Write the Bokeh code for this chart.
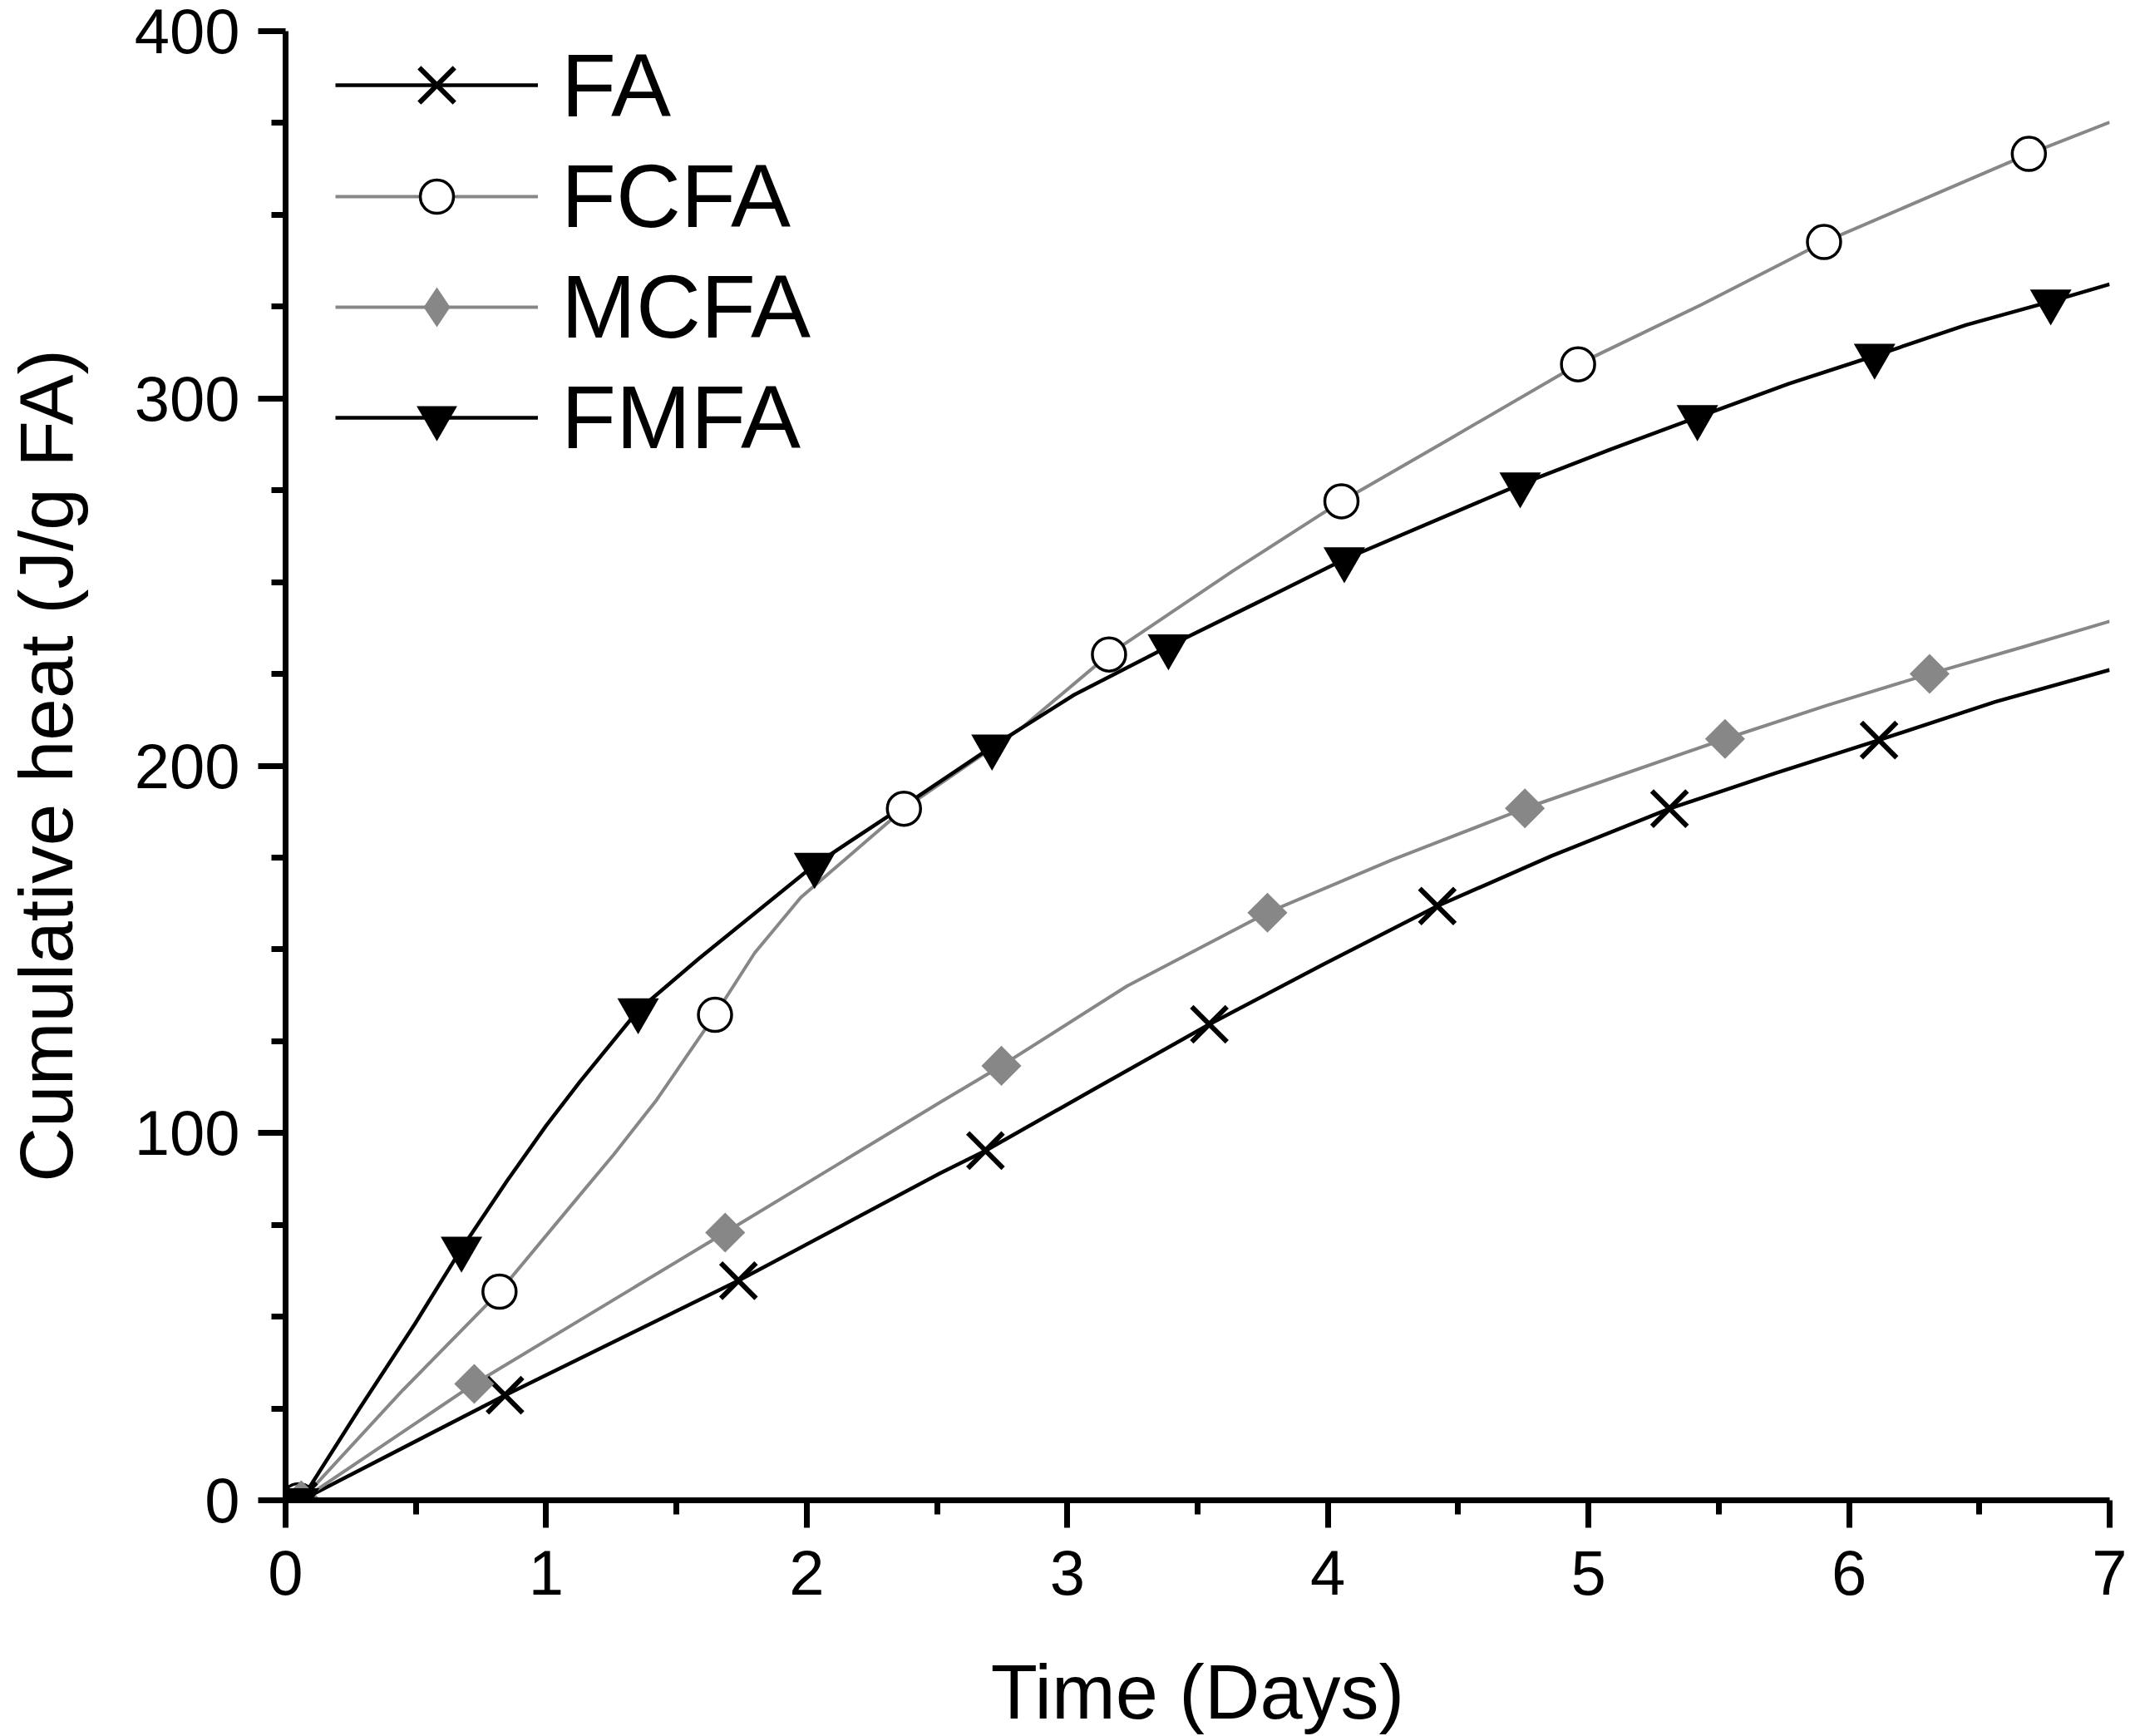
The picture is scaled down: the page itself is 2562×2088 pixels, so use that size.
import math
from bokeh.plotting import figure
from bokeh.models import FixedTicker, Legend, LegendItem, Range1d
from bokeh.embed import file_html
from bokeh.resources import INLINE

# ---------------- data ----------------
x_ticks = [0, 1, 2, 3, 4, 5, 6, 7]
x_minor = [0.5, 1.5, 2.5, 3.5, 4.5, 5.5, 6.5]
y_ticks = [0, 100, 200, 300, 400]
y_minor = [25, 50, 75, 125, 150, 175, 225, 250, 275, 325, 350, 375]

# FA : curve trace and marker points
fa_line_x = [0.06, 0.842, 1.738, 2.511, 2.686, 3.107, 3.545, 3.982, 4.420, 4.857, 5.311, 5.713, 6.115, 6.561, 7.0]
fa_line_y = [0.0, 28.6, 59.8, 89.0, 95.2, 112.1, 129.6, 145.9, 161.8, 175.4, 188.3, 197.9, 207.0, 217.4, 226.1]
fa_mark_x = [0.05, 0.842, 1.738, 2.686, 3.545, 4.420, 5.311, 6.115]
fa_mark_y = [0.0, 28.6, 59.8, 95.2, 129.6, 161.8, 188.3, 207.0]

# FCFA
fcfa_line_x = [0.06, 0.45, 0.821, 1.114, 1.261, 1.424, 1.648, 1.80, 1.977, 2.373, 2.823, 3.160, 3.637, 4.052, 4.470, 4.960, 5.438, 5.904, 6.304, 6.690, 7.0]
fcfa_line_y = [0.0, 30.0, 56.8, 81.8, 94.3, 109.0, 132.2, 149.0, 164.1, 188.3, 210.2, 230.3, 253.1, 272.0, 289.1, 309.3, 325.7, 342.6, 354.8, 366.6, 375.2]
fcfa_mark_x = [0.05, 0.821, 1.648, 2.373, 3.160, 4.052, 4.960, 5.904, 6.690]
fcfa_mark_y = [0.0, 56.8, 132.2, 188.3, 230.3, 272.0, 309.3, 342.6, 366.6]

# MCFA
mcfa_line_x = [0.06, 0.724, 1.687, 2.511, 2.747, 3.229, 3.768, 4.247, 4.756, 5.524, 5.913, 6.309, 6.661, 7.0]
mcfa_line_y = [0.0, 31.7, 72.9, 108.3, 118.3, 140.0, 160.0, 174.4, 188.4, 207.3, 216.4, 225.0, 232.2, 239.3]
mcfa_mark_x = [0.06, 0.724, 1.687, 2.747, 3.768, 4.756, 5.524, 6.309]
mcfa_mark_y = [0.0, 31.7, 72.9, 118.3, 160.0, 188.4, 207.3, 225.0]

# FMFA
fmfa_line_x = [0.06, 0.284, 0.496, 0.675, 0.85, 1.0, 1.13, 1.353, 1.586, 2.03, 2.371, 2.711, 3.026, 3.388, 3.717, 4.063, 4.738, 5.088, 5.418, 5.768, 6.098, 6.449, 6.774, 7.0]
fmfa_line_y = [0.0, 25.0, 48.0, 68.5, 87.0, 102.0, 114.0, 133.4, 147.5, 173.0, 189.0, 205.2, 219.3, 232.5, 244.0, 256.2, 276.6, 286.2, 294.9, 304.0, 311.6, 320.0, 326.4, 331.1]
fmfa_mark_x = [0.05, 0.675, 1.353, 2.03, 2.711, 3.388, 4.063, 4.738, 5.418, 6.098, 6.774]
fmfa_mark_y = [0.0, 68.5, 133.4, 173.0, 205.2, 232.5, 256.2, 276.6, 294.9, 311.6, 326.4]

labels = ["FA", "FCFA", "MCFA", "FMFA"]
x_title = "Time (Days)"
y_title = "Cumulative heat (J/g FA)"

# ---------------- styling ----------------
FONT = "Liberation Sans"
BLACK = "#000000"
GREY = "#878787"

p = figure(
    frame_width=2194, frame_height=1767,
    min_border_left=343, min_border_right=25, min_border_top=37, min_border_bottom=284,
    x_range=Range1d(0, 7), y_range=Range1d(0, 400),
    output_backend="svg", toolbar_location=None,
)
p.outline_line_color = None
p.xgrid.visible = False
p.ygrid.visible = False
p.background_fill_color = "white"
p.border_fill_color = "white"

p.xaxis.ticker = FixedTicker(ticks=x_ticks, minor_ticks=x_minor)
p.yaxis.ticker = FixedTicker(ticks=y_ticks, minor_ticks=y_minor)

for ax in (p.xaxis, p.yaxis):
    ax.axis_line_width = 7
    ax.axis_line_color = BLACK
    ax.major_tick_line_width = 7
    ax.minor_tick_line_width = 7
    ax.major_tick_line_color = BLACK
    ax.minor_tick_line_color = BLACK
    ax.major_tick_out = 33
    ax.major_tick_in = 0
    ax.minor_tick_out = 17
    ax.minor_tick_in = 0
    ax.major_label_text_font = FONT
    ax.major_label_text_font_size = "76px"
    ax.major_label_text_color = BLACK
    ax.axis_label_text_font = FONT
    ax.axis_label_text_font_style = "normal"
    ax.axis_label_text_color = BLACK

p.xaxis.axis_label_text_font_size = "92px"
p.yaxis.axis_label_text_font_size = "91px"
p.xaxis.major_label_standoff = 27
p.yaxis.major_label_standoff = 22
p.xaxis.axis_label = x_title
p.xaxis.axis_label_standoff = 63
p.yaxis.axis_label = y_title
p.yaxis.axis_label_standoff = 53

# ---------------- glyphs ----------------
fa_l = p.line(fa_line_x, fa_line_y, line_color=BLACK, line_width=4.5)
fcfa_l = p.line(fcfa_line_x, fcfa_line_y, line_color=GREY, line_width=4)
mcfa_l = p.line(mcfa_line_x, mcfa_line_y, line_color=GREY, line_width=4)
fmfa_l = p.line(fmfa_line_x, fmfa_line_y, line_color=BLACK, line_width=4.5)

fa_m = p.scatter(fa_mark_x, fa_mark_y, marker="x", size=60, line_color=BLACK, line_width=6)
fcfa_m = p.scatter(fcfa_mark_x, fcfa_mark_y, marker="circle", size=40, fill_color="white",
                   line_color=BLACK, line_width=3.5)
mcfa_m = p.scatter(mcfa_mark_x, mcfa_mark_y, marker="square", size=34, angle=math.pi / 4,
                   fill_color=GREY, line_color=None)
fmfa_m = p.scatter(fmfa_mark_x, fmfa_mark_y, marker="inverted_triangle", size=50,
                   fill_color=BLACK, line_color=None)
# legend-only symbol for MCFA (the legend does not rotate markers); hidden in the plot
mcfa_leg = p.scatter(mcfa_mark_x, mcfa_mark_y, marker="diamond", fill_color=GREY, line_color=None)
mcfa_leg.visible = False

# one legend box per entry, so that each legend symbol gets its own size
# (a legend draws markers at 0.4 x its glyph height)
entries = [
    (labels[0], [fa_l, fa_m], 150, 1627),
    (labels[1], [fcfa_l, fcfa_m], 100, 1506),
    (labels[2], [mcfa_l, mcfa_leg], 120, 1373),
    (labels[3], [fmfa_l, fmfa_m], 122, 1240),
]
for lab, rends, gh, ypos in entries:
    lg = Legend(
        items=[LegendItem(label=lab, renderers=rends)],
        location=(60, ypos),
        orientation="vertical",
        padding=0, margin=0, spacing=0,
        glyph_width=244, glyph_height=gh, label_height=100,
        label_standoff=28,
        label_text_font=FONT, label_text_font_size="108px", label_text_color=BLACK,
        border_line_color=None, background_fill_alpha=0,
    )
    p.add_layout(lg, "center")

open("out.html", "w").write(file_html(p, INLINE))
